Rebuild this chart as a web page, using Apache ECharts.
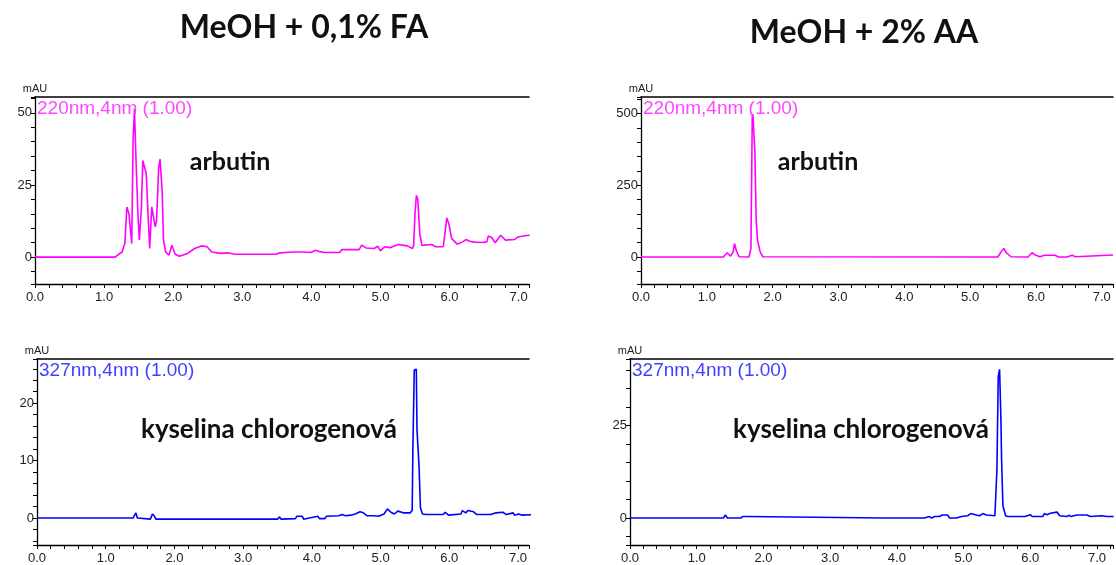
<!DOCTYPE html>
<html>
<head>
<meta charset="utf-8">
<script src="https://cdn.jsdelivr.net/npm/echarts@6/dist/echarts.min.js"></script>
<style>
html,body{margin:0;padding:0;background:#fff;}
#chart{width:1116px;height:565px;}
</style>
</head>
<body>
<div id="chart"></div>
<script>
// ---- Data (retention time [min], absorbance [mAU]) ----
const panelTitles = ['MeOH + 0,1% FA', 'MeOH + 2% AA'];
const channelLabels = ['220nm,4nm (1.00)', '327nm,4nm (1.00)'];
const compoundLabels = ['arbutin', 'kyselina chlorogenová'];
const yUnit = 'mAU';

const fa220 = [[0,0],[1.16,0],[1.21,1],[1.26,1.8],[1.30,4.7],[1.33,17.4],[1.36,15],[1.40,4.7],[1.42,41],[1.44,51.4],[1.46,35],[1.49,15],[1.51,6],[1.54,17],[1.56,33.5],[1.58,34],[1.61,29],[1.64,12.8],[1.66,3],[1.69,17.4],[1.71,17],[1.74,10.5],[1.76,12.8],[1.79,31],[1.81,34],[1.84,23],[1.86,6],[1.89,1.8],[1.94,0.7],[1.98,4.1],[2.00,3.6],[2.03,1],[2.09,0.3],[2.21,1.3],[2.31,3],[2.41,3.9],[2.49,3.6],[2.56,1.8],[2.69,1.3],[2.79,1.5],[2.89,1],[3.49,1],[3.54,1.5],[3.74,1.8],[3.89,1.8],[3.99,1.6],[4.06,2.4],[4.11,2],[4.19,1.6],[4.41,1.6],[4.44,2.6],[4.69,2.6],[4.73,4.2],[4.79,3.2],[4.91,3],[4.96,3.8],[5.00,2.2],[5.06,3.6],[5.14,3.3],[5.19,3.8],[5.26,4.4],[5.39,3.9],[5.46,3],[5.48,3.9],[5.50,15],[5.52,21.4],[5.54,20],[5.57,8],[5.60,4.1],[5.74,4.4],[5.80,3.6],[5.91,3.6],[5.93,7.6],[5.96,13.6],[5.99,11.6],[6.03,6.5],[6.11,4.5],[6.19,5.3],[6.24,6.1],[6.29,5.5],[6.36,5.2],[6.46,5.1],[6.54,5.3],[6.56,7.3],[6.61,6.8],[6.66,5],[6.74,7.6],[6.81,5.9],[6.94,6.1],[6.99,7],[7.09,7.4],[7.16,7.6]];

const aa220 = [[0,0],[1.25,0],[1.31,15],[1.36,3],[1.40,18],[1.42,47],[1.45,21],[1.49,1],[1.64,0],[1.67,30],[1.69,486],[1.70,498],[1.73,365],[1.75,128],[1.77,59],[1.81,18],[1.85,1],[5.42,0],[5.47,18],[5.51,30],[5.55,15],[5.62,1],[5.88,0],[5.94,15],[5.99,7],[6.06,1],[6.13,6],[6.29,6],[6.34,0],[6.47,0],[6.50,6],[6.55,6],[6.60,1],[6.63,6],[7.17,7]];

const fa327 = [[0,0],[1.40,0],[1.42,0.5],[1.44,0.9],[1.46,0],[1.48,-0.2],[1.65,-0.2],[1.68,0.7],[1.71,0.3],[1.73,-0.2],[3.50,-0.2],[3.53,0.2],[3.55,-0.2],[3.76,-0.1],[3.78,0.3],[3.86,0.3],[3.88,-0.2],[3.96,0],[3.98,0.3],[4.09,0.3],[4.11,-0.1],[4.19,-0.1],[4.21,0.3],[4.39,0.4],[4.44,0.6],[4.49,0.4],[4.57,0.5],[4.64,0.75],[4.70,1.1],[4.75,0.9],[4.80,0.4],[4.90,0.4],[4.92,0.6],[4.97,0.3],[5.05,0.7],[5.10,1.6],[5.15,1.0],[5.20,0.7],[5.25,1.2],[5.33,0.9],[5.43,0.9],[5.46,1.3],[5.47,11.9],[5.49,25.8],[5.52,25.9],[5.53,15.4],[5.56,9],[5.58,1.8],[5.61,0.7],[5.66,0.6],[5.91,0.6],[5.94,1],[5.99,0.5],[6.17,0.7],[6.19,1.3],[6.24,0.9],[6.27,1.3],[6.35,1.1],[6.40,0.6],[6.55,0.6],[6.57,0.9],[6.60,0.6],[6.68,0.9],[6.70,0.6],[6.78,1.0],[6.83,0.6],[6.93,0.9],[6.95,0.5],[7.01,0.7],[7.06,0.5],[7.23,0.6]];

const aa327 = [[0,0],[1.40,0],[1.43,0.8],[1.45,0.8],[1.46,0],[1.66,0],[1.69,0.4],[1.73,0.4],[1.75,0],[3.81,0],[3.83,0.4],[3.86,0],[4.41,0],[4.43,0.4],[4.49,0.4],[4.52,0],[4.57,0.4],[4.64,0.4],[4.68,0.8],[4.76,0.8],[4.79,0],[4.89,0],[4.91,0.4],[4.97,0.4],[4.99,0],[5.06,0.6],[5.11,1.2],[5.19,0.8],[5.24,0.6],[5.29,1.2],[5.34,0.8],[5.47,0.6],[5.50,13.2],[5.52,38.3],[5.54,40.2],[5.56,26.6],[5.57,15.9],[5.59,3.3],[5.63,0.6],[5.66,0.4],[5.92,0.4],[5.94,0.9],[6.00,0.9],[6.03,0.4],[6.19,0.4],[6.21,1.2],[6.25,0.9],[6.30,1.3],[6.40,1.6],[6.44,0.6],[6.55,0.4],[6.58,0.8],[6.61,0.4],[6.70,0.8],[6.72,0.4],[6.85,0.8],[6.90,0.4],[7.07,0.6],[7.15,0.4],[7.25,0.4]];

// ---- Panel layout ----
const panels = [
  {data: fa220, color: '#ff00ff', grid: {left: 35, top: 97, width: 494, height: 187}, xMax: 7.15, yMin: -9.3, yMax: 55.5, yStep: 5, yMajor: 25, chan: 0, comp: 0, compPos: [230, 162]},
  {data: aa220, color: '#ff00ff', grid: {left: 641, top: 97, width: 473, height: 187}, xMax: 7.17, yMin: -94, yMax: 558, yStep: 50, yMajor: 250, chan: 0, comp: 0, compPos: [818, 162]},
  {data: fa327, color: '#0000ff', grid: {left: 37, top: 359, width: 492, height: 187}, xMax: 7.16, yMin: -4.7, yMax: 27.7, yStep: 2, yMajor: 10, chan: 1, comp: 1, compPos: [269, 430]},
  {data: aa327, color: '#0000ff', grid: {left: 630, top: 359, width: 486, height: 187}, xMax: 7.24, yMin: -7.3, yMax: 43, yStep: 5, yMajor: 25, chan: 1, comp: 1, compPos: [861, 430]}
];

const isMult = (v, m) => Math.abs(v / m - Math.round(v / m)) < 1e-6;
const tickFont = '"Liberation Sans", Arial, sans-serif';

const grids = [], xAxes = [], yAxes = [], series = [], graphics = [];
panels.forEach((p, i) => {
  grids.push(Object.assign({containLabel: false}, p.grid));
  xAxes.push({
    gridIndex: i, type: 'value', min: 0, max: p.xMax, interval: 0.2,
    axisLine: {show: true, onZero: false, lineStyle: {color: '#000', width: 1.3}},
    axisTick: {show: true, length: 4, lineStyle: {color: '#000', width: 1}},
    axisLabel: {show: true, margin: 7, fontSize: 13, color: '#222', fontFamily: tickFont,
      formatter: v => isMult(v, 1) && v <= 7.0001 ? v.toFixed(1) : ''},
    splitLine: {show: false}
  });
  yAxes.push({
    gridIndex: i, type: 'value', min: p.yMin, max: p.yMax,
    minInterval: p.yStep, maxInterval: p.yStep, splitNumber: Math.round((p.yMax - p.yMin) / p.yStep),
    axisLine: {show: true, onZero: false, lineStyle: {color: '#000', width: 1.3}},
    axisTick: {show: true, length: 4, lineStyle: {color: '#000', width: 1}},
    axisLabel: {show: true, margin: 3, fontSize: 13, color: '#222', fontFamily: tickFont,
      formatter: v => (isMult(v, p.yMajor) ? String(Math.round(v)) : '')},
    splitLine: {show: false},
    name: yUnit, nameLocation: 'end', nameGap: 3,
    nameTextStyle: {fontSize: 11, color: '#222', fontFamily: tickFont, align: 'center'}
  });
  series.push({
    type: 'line', xAxisIndex: i, yAxisIndex: i, data: p.data,
    showSymbol: false, symbol: 'none', smooth: false, animation: false,
    lineStyle: {color: p.color, width: 1.6}, itemStyle: {color: p.color}, z: 3
  });
  graphics.push({
    type: 'text', x: p.grid.left + 2, y: p.grid.top + 12, z: 10,
    style: {text: channelLabels[p.chan], fill: p.color === '#ff00ff' ? '#ff33ff' : '#2a2aff',
      font: '19px "Liberation Sans", Arial, sans-serif', textAlign: 'left', textVerticalAlign: 'middle',
      align: 'left', verticalAlign: 'middle', opacity: 0.9}
  });
  graphics.push({
    type: 'text', x: p.compPos[0], y: p.compPos[1], z: 10,
    style: {text: compoundLabels[p.comp], fill: '#111',
      font: 'bold ' + (p.comp === 0 ? 25 : 26) + 'px Lato, "Open Sans", sans-serif', textAlign: 'center', textVerticalAlign: 'middle',
      align: 'center', verticalAlign: 'middle'}
  });
});
// top border lines as secondary x axes
panels.forEach((p, i) => {
  xAxes.push({
    gridIndex: i, type: 'value', position: 'top', min: 0, max: 1,
    axisLine: {show: true, onZero: false, lineStyle: {color: '#000', width: 1.6}},
    axisTick: {show: false}, axisLabel: {show: false}, splitLine: {show: false}
  });
});
graphics.push({type: 'text', x: 304, y: 28, z: 10,
  style: {text: panelTitles[0], fill: '#111', font: 'bold 32px Lato, "Open Sans", sans-serif',
    textAlign: 'center', textVerticalAlign: 'middle', align: 'center', verticalAlign: 'middle'}});
graphics.push({type: 'text', x: 864, y: 33, z: 10,
  style: {text: panelTitles[1], fill: '#111', font: 'bold 32px Lato, "Open Sans", sans-serif',
    textAlign: 'center', textVerticalAlign: 'middle', align: 'center', verticalAlign: 'middle'}});

const chart = echarts.init(document.getElementById('chart'), null, {renderer: 'canvas'});
chart.setOption({
  animation: false,
  backgroundColor: '#fff',
  grid: grids, xAxis: xAxes, yAxis: yAxes, series: series, graphic: graphics
});
</script>
</body>
</html>
